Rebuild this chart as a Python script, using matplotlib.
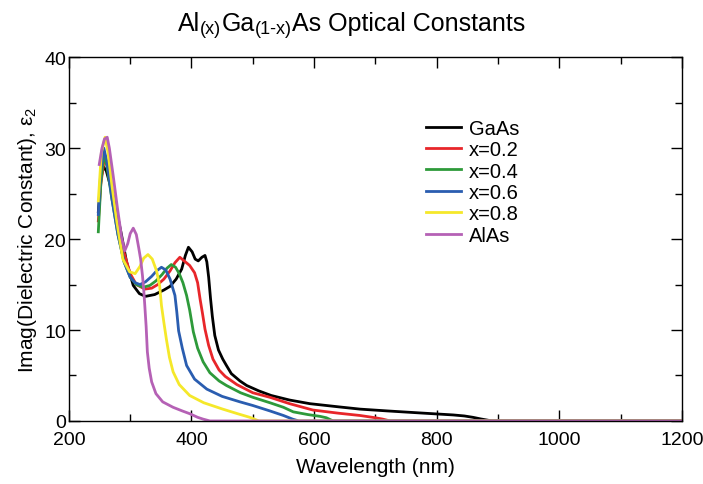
import matplotlib
matplotlib.use("Agg")
import matplotlib.pyplot as plt
from matplotlib.ticker import MultipleLocator

plt.rcParams['font.family'] = ['Liberation Sans', 'DejaVu Sans']
plt.rcParams['mathtext.fontset'] = 'custom'
plt.rcParams['mathtext.rm'] = 'Liberation Sans'
plt.rcParams['mathtext.it'] = 'Liberation Sans:italic'

labels = ["GaAs", "x=0.2", "x=0.4", "x=0.6", "x=0.8", "AlAs"]
colors = ["#000000", "#e8262a", "#2e9a3a", "#2a5db0", "#f5e82a", "#b561b5"]

gaas_wl = [248, 252, 256, 261, 268, 275, 286, 294, 305, 315, 325, 340, 355, 365, 375, 384, 390, 395, 401, 406, 411, 417, 422, 425, 428, 431, 434, 438, 444, 451, 457, 465, 479, 490, 510, 530, 560, 593, 640, 675, 720, 773, 800, 827, 845, 859, 872, 882, 890, 1200]
gaas_v = [23, 26.5, 28, 27.5, 25.8, 24, 20.4, 17.5, 14.9, 14.0, 13.7, 13.9, 14.4, 14.8, 15.6, 16.7, 18.2, 19.1, 18.6, 17.8, 17.6, 18.0, 18.2, 17.5, 15.8, 13.5, 11.5, 9.4, 7.8, 6.8, 6.1, 5.2, 4.4, 3.9, 3.3, 2.8, 2.3, 1.9, 1.55, 1.3, 1.1, 0.88, 0.77, 0.66, 0.55, 0.4, 0.22, 0.1, 0, 0]

x02_wl = [248, 252, 258, 263, 270, 280, 290, 300, 310, 324, 335, 345, 355, 365, 373, 381, 388, 397, 405, 410, 414, 418, 422, 428, 435, 445, 455, 474, 500, 528, 560, 598, 640, 675, 700, 712, 724, 1200]
x02_v = [22, 26, 29, 28, 25.5, 21.5, 18.5, 16.2, 15.0, 14.5, 14.6, 15.0, 15.6, 16.5, 17.4, 18.0, 17.6, 17.1, 16.3, 15.2, 13.4, 11.8, 10.1, 8.3, 6.8, 5.6, 4.9, 4.0, 3.1, 2.6, 1.9, 1.2, 0.85, 0.6, 0.35, 0.2, 0, 0]

x04_wl = [248, 252, 257, 262, 270, 280, 290, 300, 310, 321, 332, 342, 352, 360, 367, 374, 380, 386, 392, 397, 403, 410, 419, 430, 445, 457, 480, 500, 528, 550, 566, 590, 610, 620, 631, 1200]
x04_v = [20.8, 26, 29.5, 28, 24.5, 20.5, 17.5, 15.8, 15.0, 14.7, 14.9, 15.4, 16.1, 16.8, 17.2, 16.9, 16.2, 15.2, 13.8, 12.2, 9.8, 8.0, 6.5, 5.3, 4.4, 3.9, 3.1, 2.6, 2.0, 1.5, 1.0, 0.7, 0.5, 0.35, 0, 0]

x06_wl = [248, 252, 257, 262, 270, 280, 290, 300, 308, 316, 325, 335, 343, 351, 358, 365, 373, 376, 379, 385, 392, 405, 425, 450, 479, 500, 528, 550, 565, 575, 1200]
x06_v = [22.7, 27.5, 30, 28.5, 24.5, 20.5, 17.5, 15.8, 15.2, 15.0, 15.3, 15.9, 16.5, 16.9, 16.6, 15.6, 13.8, 12.0, 9.9, 8.0, 6.1, 4.6, 3.5, 2.7, 2.1, 1.7, 1.1, 0.6, 0.2, 0, 0]

x08_wl = [248, 253, 259, 264, 270, 278, 288, 299, 308, 316, 322, 329, 336, 343, 348, 351, 355, 359, 364, 370, 380, 397, 420, 451, 475, 495, 510, 1200]
x08_v = [24.2, 29.5, 31.2, 29.5, 26, 22, 17.8, 16.4, 16.2, 17.0, 17.9, 18.3, 17.8, 16.5, 14.9, 12.7, 10.8, 9.0, 7.0, 5.4, 4.0, 2.8, 2.0, 1.3, 0.8, 0.4, 0, 0]

alas_wl = [249.5, 254, 258, 262.5, 266, 272, 279, 286, 291, 296, 300, 305, 310, 314, 317, 320, 322, 324, 326, 328, 331, 335, 342, 353, 370, 385, 397, 410, 419, 430, 1200]
alas_v = [28.2, 30, 31, 31.2, 30, 27.1, 23.5, 20.2, 18.7, 19.5, 20.6, 21.2, 20.5, 19, 17.8, 16.0, 14.5, 12.5, 10.4, 7.6, 5.8, 4.3, 3.0, 2.1, 1.5, 1.1, 0.8, 0.4, 0.2, 0, 0]

title_parts = [("Al", 18), ("(x)", 13), ("Ga", 18), ("(1-x)", 13), ("As Optical Constants", 18)]

series = [(gaas_wl, gaas_v), (x02_wl, x02_v), (x04_wl, x04_v),
          (x06_wl, x06_v), (x08_wl, x08_v), (alas_wl, alas_v)]

W, H = 7.03, 4.85
fig = plt.figure(figsize=(W, H), dpi=100)
ax = fig.add_axes([0.098, 0.130, 0.872, 0.750])

for (wl, v), c, lab in zip(series, colors, labels):
    ax.plot(wl, v, color=c, lw=2.0, label=lab, solid_joinstyle='round')

ax.set_xlim(200, 1200)
ax.set_ylim(0, 40)
ax.xaxis.set_major_locator(MultipleLocator(200))
ax.xaxis.set_minor_locator(MultipleLocator(100))
ax.yaxis.set_major_locator(MultipleLocator(10))
ax.yaxis.set_minor_locator(MultipleLocator(5))
ax.tick_params(which='both', direction='in', top=True, right=True, width=1.0)
ax.tick_params(which='major', length=8, labelsize=14)
ax.tick_params(which='minor', length=5)
ax.tick_params(axis='x', which='major', pad=7)
ax.tick_params(axis='y', which='major', pad=2)
for s in ax.spines.values():
    s.set_linewidth(1.0)

ax.set_xlabel("Wavelength (nm)", fontsize=15, labelpad=7)
ax.set_ylabel("Imag(Dielectric Constant), ε$_{2}$", fontsize=15, labelpad=4)

# title assembled from pieces (smaller parenthesised subscripts)
renderer = fig.canvas.get_renderer()
texts = []
for s, fs in title_parts:
    t = fig.text(0, 0, s, fontsize=fs, ha='left', va='baseline')
    texts.append(t)
widths = [t.get_window_extent(renderer).width for t in texts]
total = sum(widths)
x0 = (W * 100 - total) / 2.0
base = H * 100 - 31
for t, w, (s, fs) in zip(texts, widths, title_parts):
    dy = -3 if fs < 18 else 0
    t.set_position((x0 / (W * 100), (base + dy) / (H * 100)))
    x0 += w

ax.legend(loc='upper left', bbox_to_anchor=(0.582, 0.831), frameon=False,
          fontsize=14.5, handlelength=1.75, handletextpad=0.4, labelspacing=0.12,
          borderaxespad=0, borderpad=0)

fig.savefig("out.png", dpi=100)
